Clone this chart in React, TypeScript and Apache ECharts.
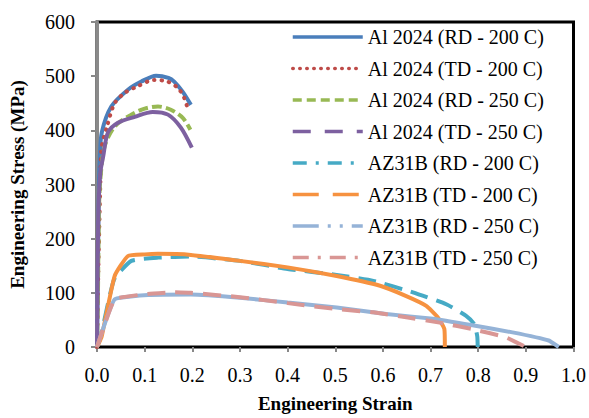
import React, { useEffect, useRef } from "react";
import * as echarts from "echarts";

const seriesNames = [
  "Al 2024 (RD - 200 C)",
  "Al 2024 (TD - 200 C)",
  "Al 2024 (RD - 250 C)",
  "Al 2024 (TD - 250 C)",
  "AZ31B (RD - 200 C)",
  "AZ31B (TD - 200 C)",
  "AZ31B (RD - 250 C)",
  "AZ31B (TD - 250 C)",
];

const alRd200: number[][] = [
  [0, 0], [0.002, 150], [0.004, 300], [0.006, 350], [0.01, 396], [0.03, 444], [0.065, 475],
  [0.093, 490], [0.124, 501], [0.15, 497], [0.162, 490], [0.18, 471], [0.197, 447],
];
const alTd200: number[][] = [
  [0, 0], [0.003, 150], [0.007, 300], [0.009, 364], [0.022, 410], [0.037, 450], [0.058, 469],
  [0.082, 480], [0.12, 493], [0.148, 490], [0.17, 478], [0.183, 460], [0.19, 441],
];
const alRd250: number[][] = [
  [0, 0], [0.002, 100], [0.004, 250], [0.007, 309], [0.016, 370], [0.037, 407], [0.072, 429],
  [0.1, 440], [0.128, 444], [0.155, 438], [0.18, 423], [0.196, 401],
];
const alTd250: number[][] = [
  [0, 0], [0.001, 100], [0.003, 250], [0.007, 322], [0.013, 352], [0.023, 396], [0.044, 414],
  [0.079, 425], [0.117, 434], [0.149, 429], [0.176, 405], [0.199, 368],
];
const azRd200: number[][] = [
  [0, 0], [0.008, 20], [0.036, 125], [0.072, 159], [0.128, 165], [0.197, 167], [0.3, 159],
  [0.4, 144], [0.503, 133], [0.58, 122], [0.663, 101], [0.733, 79], [0.774, 58], [0.792, 42],
  [0.798, 20], [0.799, 0],
];
const azTd200: number[][] = [
  [0, 0], [0.01, 20], [0.037, 131], [0.065, 168], [0.1, 171], [0.128, 172], [0.197, 170],
  [0.3, 159], [0.4, 147], [0.503, 131], [0.594, 113], [0.649, 94], [0.691, 76], [0.715, 55],
  [0.729, 33], [0.73, 0],
];
const azRd250: number[][] = [
  [0, 0], [0.037, 88], [0.107, 96], [0.197, 97], [0.3, 91], [0.4, 82], [0.503, 73],
  [0.607, 61], [0.705, 52], [0.788, 40], [0.872, 27], [0.948, 12], [0.969, 0],
];
const azTd250: number[][] = [
  [0, 0], [0.037, 88], [0.107, 98], [0.162, 101], [0.197, 100], [0.3, 92], [0.4, 81],
  [0.503, 70], [0.58, 64], [0.649, 55], [0.719, 45], [0.788, 33], [0.858, 18], [0.9, 0],
];

const seriesData = [alRd200, alTd200, alRd250, alTd250, azRd200, azTd200, azRd250, azTd250];
const seriesColors = ["#4A7EBB", "#BE4B48", "#98B954", "#7D60A0", "#46AAC5", "#F69240", "#95B3D7", "#D99694"];
// dash pattern drawn along the curves
const plotDash: any[] = [
  "solid",
  [0.5, 7],
  [10, 4],
  "solid",
  [18, 9],
  "solid",
  "solid",
  [18, 10],
];
// dash pattern shown in the legend
const legendDash: any[] = [
  "solid",
  [0.5, 6.5],
  [9, 5],
  [18, 14],
  [14, 9, 3, 9],
  [26, 14],
  [26, 9, 3, 9, 3, 9],
  [16, 9, 3, 9],
];
const seriesSmooth = [0.3, 0.3, 0.3, 0.3, 0.15, 0.15, 0.1, 0.1];

const xTicks = { min: 0, max: 1, interval: 0.1 };
const yTicks = { min: 0, max: 600, interval: 100 };

const FONT = "Liberation Serif";

export default function App() {
  const ref = useRef<HTMLDivElement>(null);
  useEffect(() => {
    document.body.style.margin = "0";
    const chart = echarts.init(ref.current!, null, { renderer: "svg", width: 589, height: 418 });
    chart.setOption({
      animation: false,
      backgroundColor: "#fff",
      textStyle: { fontFamily: FONT },
      grid: {
        left: 95, right: 15, top: 22, bottom: 65,
        show: true, borderColor: "#000", borderWidth: 3, backgroundColor: "transparent",
      },
      legend: {
        orient: "vertical",
        left: 286,
        top: 22,
        itemWidth: 70,
        itemHeight: 14,
        itemGap: 11.5,
        itemStyle: { opacity: 0 },
        textStyle: { fontFamily: FONT, fontSize: 20, color: "#000", padding: [0, 0, 0, 0] },
        data: seriesNames.map((name, i) => ({
          name,
          lineStyle: {
            color: seriesColors[i],
            width: 3.5,
            type: legendDash[i],
            cap: i === 1 ? "round" : "butt",
          },
        })),
      },
      xAxis: {
        type: "value",
        min: xTicks.min, max: xTicks.max, interval: xTicks.interval,
        name: "Engineering Strain",
        nameLocation: "middle",
        nameGap: 47,
        nameTextStyle: { fontFamily: FONT, fontSize: 19, fontWeight: "bold", color: "#000" },
        axisLine: { show: true, lineStyle: { color: "#000", width: 2 } },
        axisTick: { show: true, inside: false, length: 5, lineStyle: { color: "#888", width: 2 } },
        axisLabel: {
          fontFamily: FONT, fontSize: 20, color: "#000", margin: 18,
          formatter: (v: number) => v.toFixed(1),
        },
        splitLine: { show: false },
      },
      yAxis: {
        type: "value",
        min: yTicks.min, max: yTicks.max, interval: yTicks.interval,
        name: "Engineering Stress (MPa)",
        nameLocation: "middle",
        nameGap: 70,
        nameTextStyle: { fontFamily: FONT, fontSize: 19, fontWeight: "bold", color: "#000" },
        axisLine: { show: true, lineStyle: { color: "#8a8a8a", width: 3 } },
        axisTick: { show: true, inside: false, length: 6, lineStyle: { color: "#888", width: 2 } },
        axisLabel: { fontFamily: FONT, fontSize: 20, color: "#000", margin: 22 },
        splitLine: { show: false },
      },
      series: seriesNames.map((name, i) => ({
        name,
        type: "line",
        data: seriesData[i],
        showSymbol: false,
        symbol: "none",
        smooth: seriesSmooth[i],
        color: seriesColors[i],
        lineStyle: {
          color: seriesColors[i],
          width: 4,
          type: plotDash[i],
          cap: i === 1 ? "round" : "butt",
        },
      })),
    });
    return () => chart.dispose();
  }, []);
  return <div ref={ref} style={{ width: 589, height: 418 }} />;
}
